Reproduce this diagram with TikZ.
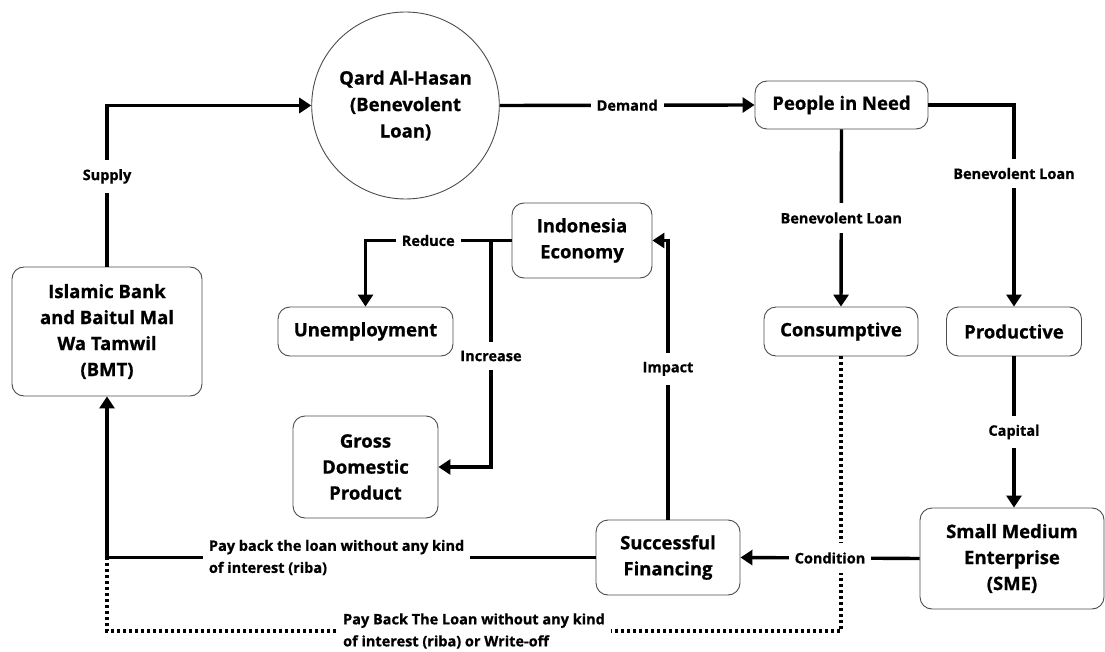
\documentclass[tikz,border=0pt]{standalone}
\usepackage{fontspec}
\setmainfont[BoldFeatures={FakeBold=0.8}]{Open Sans}
\usetikzlibrary{arrows.meta,shapes.geometric,calc}

\tikzset{
  box/.style={draw=black!70, line width=0.9pt, rounded corners=12pt,
    align=center, inner sep=0pt, font=\bfseries\fontsize{18.5}{26}\selectfont},
  oval/.style={draw=black!70, line width=0.9pt, ellipse, align=center,
    inner sep=0pt, font=\bfseries\fontsize{18.5}{26.5}\selectfont},
  conn/.style={line width=3.4pt, -{Triangle[length=12pt,width=15pt]}},
  plain/.style={line width=3.4pt},
  dotline/.style={line width=3.4pt, dash pattern=on 3pt off 3pt},
  lbl/.style={fill=white, inner xsep=6pt, inner ysep=9pt,
    font=\bfseries\fontsize{14.5}{22}\selectfont},
  note/.style={fill=white, inner xsep=6pt, inner ysep=3pt, align=left,
    font=\bfseries\fontsize{14.5}{22}\selectfont}
}

\begin{document}
\begin{tikzpicture}[x=1pt, y=-1pt]
\useasboundingbox (0,0) rectangle (1105,652);

% nodes
\node[box, minimum width=190, minimum height=129] (bmt) at (107,331.5)
  {Islamic Bank\\and Baitul Mal\\Wa Tamwil\\(BMT)};
\node[oval, minimum width=179, minimum height=187] (qard) at (405.5,105.5)
  {Qard Al-Hasan\\(Benevolent\\Loan)};
\node[box, minimum width=173, minimum height=48] (pin) at (841.5,105) {People in Need};
\node[box, minimum width=140, minimum height=75] (ie) at (582,240.5) {Indonesia\\Economy};
\node[box, minimum width=175, minimum height=49] (unemp) at (365.5,331.5) {Unemployment};
\node[box, minimum width=154, minimum height=49] (cons) at (841,331.5) {Consumptive};
\node[box, minimum width=135, minimum height=49] (prod) at (1014,331.5) {Productive};
\node[box, minimum width=145, minimum height=102] (gdp) at (365.5,467) {Gross\\Domestic\\Product};
\node[box, minimum width=144, minimum height=75] (sf) at (668,557.5) {Successful\\Financing};
\node[box, minimum width=184, minimum height=101] (sme) at (1012,558.5)
  {Small Medium\\Enterprise\\(SME)};

\coordinate (jn) at (491,240.5);
\coordinate (pb) at (bmt.south |- sf.west);
\coordinate (dc) at (bmt.south |- 0,631);

% dotted repayment path from consumptive loans
\draw[dotline] (cons.south) |- node[note, pos=0.75]
  {Pay Back The Loan without any kind\\of interest (riba) or Write-off} (dc) -- (pb);

% main flow
\draw[conn] (bmt.north) -- node[lbl, pos=0.56]{Supply} (bmt.north |- qard.west) -- (qard.west);
\draw[conn] (qard.east) -- node[lbl]{Demand} (pin.west);
\draw[conn] (pin.east) -- (prod.north |- pin.east) -- node[lbl, pos=0.34]{Benevolent Loan} (prod.north);
\draw[conn] (pin.south) -- node[lbl]{Benevolent Loan} (cons.north);
\draw[conn] (prod.south) -- node[lbl]{Capital} (prod.south |- sme.north);
\draw[conn] (sme.west) -- node[lbl]{Condition} (sf.east);
\draw[conn] (sf.north) -- node[lbl, pos=0.54]{Impact} (sf.north |- ie.east) -- (ie.east);
\draw[conn] (sf.west) -- node[note, pos=0.53]
  {Pay back the loan without any kind\\of interest (riba)} (pb) -- (bmt.south);

% effects on the economy
\draw[plain] (ie.west) -- (jn);
\draw[conn] (jn) -- node[lbl]{Reduce} (jn -| unemp.north) -- (unemp.north);
\draw[conn] (jn) -- node[lbl, pos=0.51]{Increase} (jn |- gdp.east) -- (gdp.east);
\end{tikzpicture}
\end{document}
